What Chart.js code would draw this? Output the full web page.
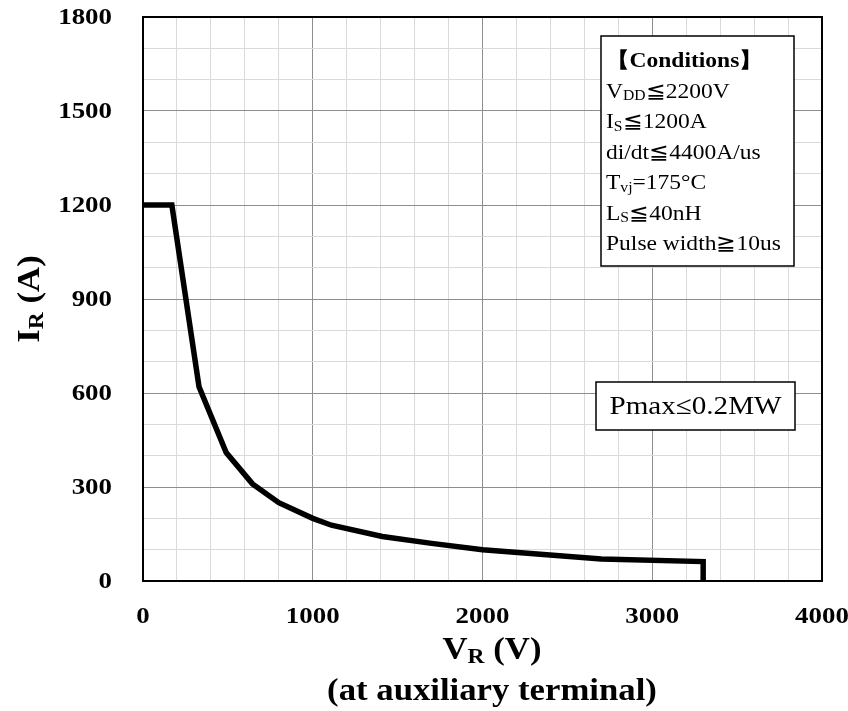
<!DOCTYPE html>
<html>
<head>
<meta charset="utf-8">
<script src="https://cdn.jsdelivr.net/npm/chart.js@4.4.1/dist/chart.umd.min.js"></script>
<style>
html,body{margin:0;padding:0;background:#fff;}
#wrap{width:848px;height:711px;position:relative;}
</style>
</head>
<body>
<div id="wrap"><canvas id="c" width="848" height="711"></canvas></div>
<script>
// ---- data ----
const voltageV = [0, 170, 330, 490, 645, 800, 1000, 1110, 1410, 1700, 2000, 2700, 3300, 3300];
const currentA = [1200, 1200, 620, 410, 310, 250, 200, 178, 142, 120, 100, 70, 62, 0];
const xTickLabels = [0, 1000, 2000, 3000, 4000];
const yTickLabels = [0, 300, 600, 900, 1200, 1500, 1800];
const conditionLines = [
  [["【Conditions】", "b"]],
  [["V", "n"], ["DD", "s"], ["≦2200V", "n"]],
  [["I", "n"], ["S", "s"], ["≦1200A", "n"]],
  [["di/dt≦4400A/us", "n"]],
  [["T", "n"], ["vj", "s"], ["=175°C", "n"]],
  [["L", "n"], ["S", "s"], ["≦40nH", "n"]],
  [["Pulse width≧10us", "n"]]
];
const pmaxText = "Pmax≤0.2MW";

const SERIF = "'Liberation Serif','Times New Roman','DejaVu Serif',serif";
const SX = 1.12; // horizontal stretch of text as in the reference

function stretchedText(ctx, text, x, y, align) {
  const w = ctx.measureText(text).width * SX;
  let x0 = x;
  if (align === 'center') x0 = x - w / 2;
  else if (align === 'right') x0 = x - w;
  ctx.save();
  ctx.translate(x0, y);
  ctx.scale(SX, 1);
  ctx.textAlign = 'left';
  ctx.fillText(text, 0, 0);
  ctx.restore();
  return w;
}

// draw runs [text, kind] where kind n=normal, b=bold, s=subscript
function drawRuns(ctx, runs, x, y, size, bold, align) {
  const fontFor = (k) => {
    const sz = k === 's' ? Math.round(size * 0.68) : size;
    const wt = (bold || k === 'b') ? 'bold ' : '';
    return wt + sz + 'px ' + SERIF;
  };
  let total = 0;
  runs.forEach(r => { ctx.font = fontFor(r[1]); total += ctx.measureText(r[0]).width * SX; });
  let cx = x;
  if (align === 'center') cx = x - total / 2;
  runs.forEach(r => {
    ctx.font = fontFor(r[1]);
    const dy = r[1] === 's' ? size * 0.12 : 0;
    cx += stretchedText(ctx, r[0], cx, y + dy, 'left');
  });
}

const overlay = {
  id: 'overlay',
  afterDraw(chart) {
    const ctx = chart.ctx;
    const xs = chart.scales.x, ys = chart.scales.y;
    const a = chart.chartArea;
    ctx.save();
    // plot border
    ctx.strokeStyle = '#000';
    ctx.lineWidth = 2;
    ctx.strokeRect(a.left, a.top, a.right - a.left, a.bottom - a.top);

    ctx.fillStyle = '#000';
    ctx.textBaseline = 'middle';
    // y tick labels
    ctx.font = 'bold 24px ' + SERIF;
    yTickLabels.forEach(v => stretchedText(ctx, String(v), a.left - 31, ys.getPixelForValue(v) + 1, 'right'));
    // x tick labels
    xTickLabels.forEach(v => stretchedText(ctx, String(v), xs.getPixelForValue(v), a.bottom + 36, 'center'));

    // x title
    ctx.textBaseline = 'alphabetic';
    const xc = 492;
    drawRuns(ctx, [["V", "n"], ["R", "s"], [" (V)", "n"]], xc, 659, 31, true, 'center');
    drawRuns(ctx, [["(at auxiliary terminal)", "n"]], xc, 700, 31, true, 'center');

    // y title rotated
    ctx.save();
    ctx.translate(39, 299);
    ctx.rotate(-Math.PI / 2);
    drawRuns(ctx, [["I", "n"], ["R", "s"], [" (A)", "n"]], 0, 0, 31, true, 'center');
    ctx.restore();

    // conditions box
    const bx = 601, by = 36, bw = 193, bh = 230;
    ctx.fillStyle = '#fff';
    ctx.fillRect(bx, by, bw, bh);
    ctx.strokeStyle = '#000';
    ctx.lineWidth = 1.5;
    ctx.strokeRect(bx, by, bw, bh);
    ctx.fillStyle = '#000';
    conditionLines.forEach((runs, i) => {
      drawRuns(ctx, runs, bx + 5, by + 31 + i * 30.5, 21, false, 'left');
    });

    // Pmax box
    const px = 596, py = 382, pw = 199, ph = 48;
    ctx.fillStyle = '#fff';
    ctx.fillRect(px, py, pw, ph);
    ctx.strokeRect(px, py, pw, ph);
    ctx.fillStyle = '#000';
    ctx.font = '26px ' + SERIF;
    ctx.textBaseline = 'middle';
    stretchedText(ctx, pmaxText, px + pw / 2, py + ph / 2 + 1, 'center');
    ctx.restore();
  }
};

const gridColor = (major) => (ctx) => {
  const v = ctx.tick ? ctx.tick.value : 0;
  return (v % major === 0) ? '#8e8e8e' : '#dcd8dc';
};

new Chart(document.getElementById('c'), {
  type: 'scatter',
  data: {
    datasets: [{
      data: voltageV.map((v, i) => ({ x: v, y: currentA[i] })),
      showLine: true,
      borderColor: '#000',
      borderWidth: 5.5,
      pointRadius: 0,
      tension: 0,
      borderJoinStyle: 'miter',
      fill: false
    }]
  },
  options: {
    responsive: false,
    animation: false,
    devicePixelRatio: 1,
    layout: { padding: { left: 143, top: 17, right: 26, bottom: 130 } },
    plugins: { legend: { display: false }, tooltip: { enabled: false } },
    scales: {
      x: {
        type: 'linear', min: 0, max: 4000,
        ticks: { stepSize: 200, display: false },
        grid: { color: gridColor(1000), lineWidth: 1, drawTicks: false },
        border: { display: false }
      },
      y: {
        type: 'linear', min: 0, max: 1800,
        ticks: { stepSize: 100, display: false },
        grid: { color: gridColor(300), lineWidth: 1, drawTicks: false },
        border: { display: false }
      }
    }
  },
  plugins: [overlay]
});
</script>
</body>
</html>
